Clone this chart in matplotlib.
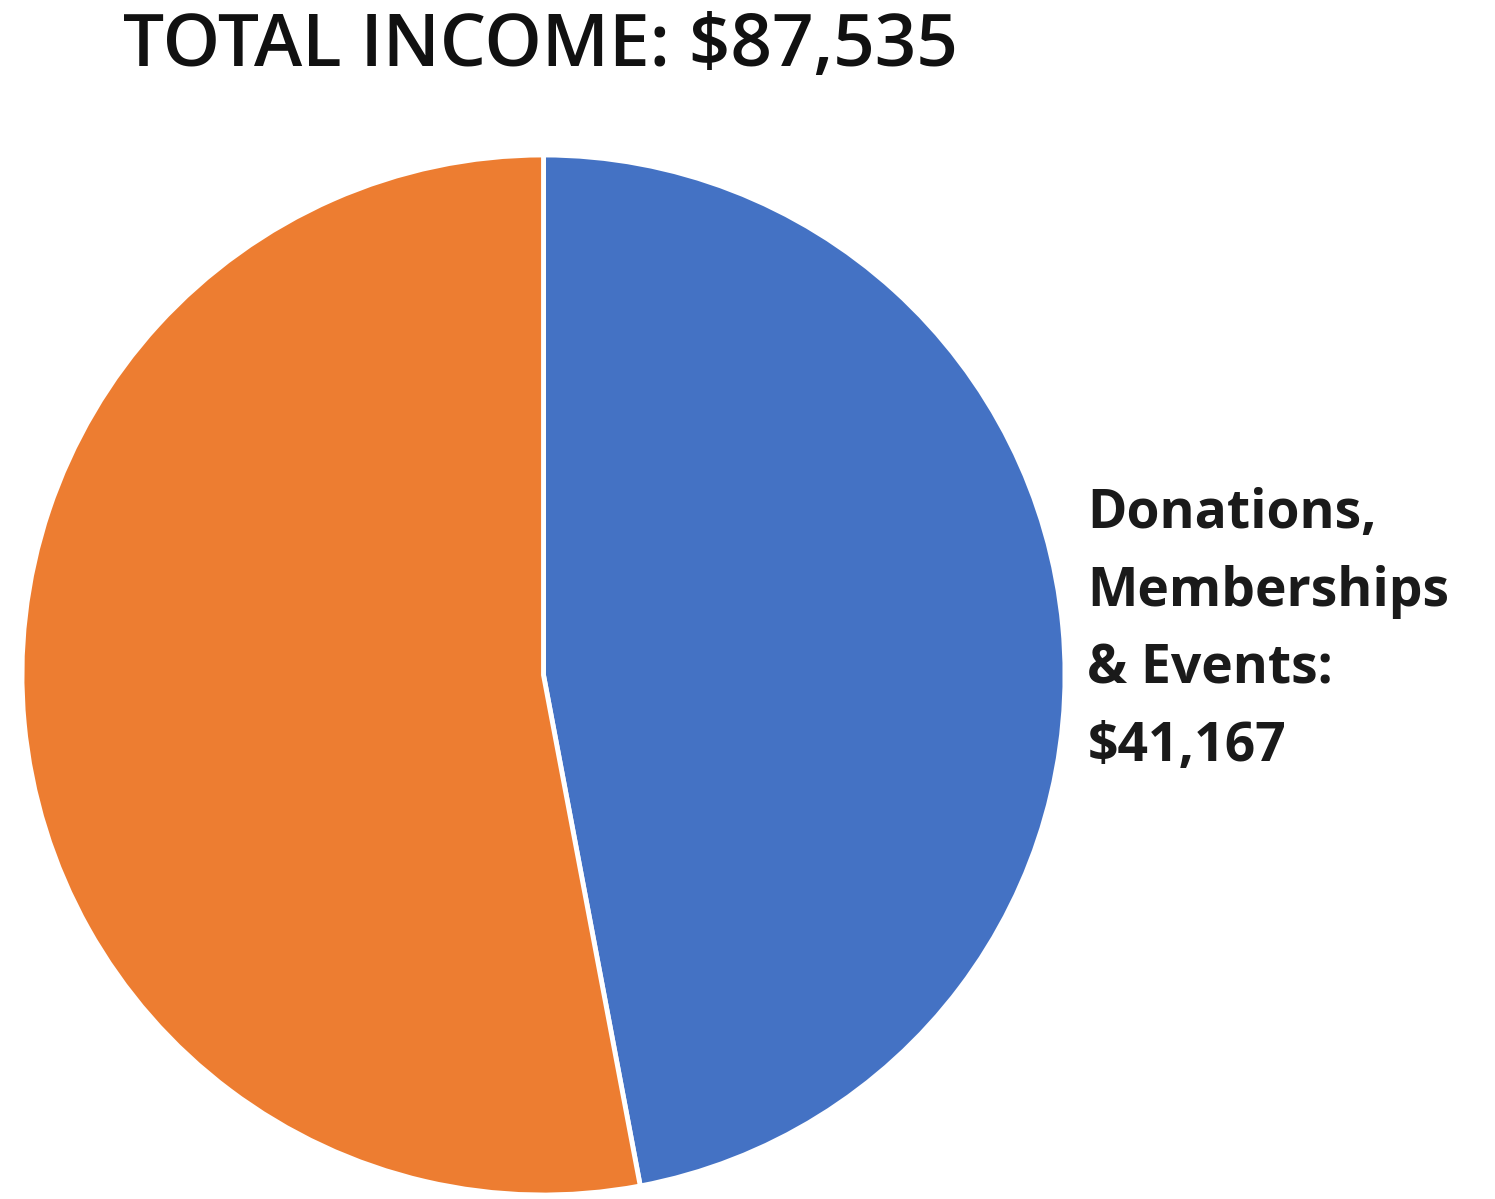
import matplotlib.pyplot as plt

# data
kategorier = ["Donations,\nMemberships\n& Events:\n$41,167", ""]
verdier = [41167, 87535 - 41167]
farger = ["#4472C4", "#ED7D31"]
tittel = "TOTAL INCOME: $87,535"

fig = plt.figure(figsize=(14.95, 11.99), dpi=100)
ax = fig.add_axes([22 / 1495, 4 / 1199, 1043 / 1495, 1040 / 1199])

ax.pie(verdier, colors=farger, startangle=90, counterclock=False,
       wedgeprops=dict(edgecolor="white", linewidth=3.5))
ax.set_xlim(-1, 1)
ax.set_ylim(-1, 1)
ax.set_aspect("auto")

# etikett for blå sektor
ax.text(1.043, 0.085, kategorier[0], ha="left", va="center", fontsize=38.5,
        family="Open Sans", fontweight="bold", linespacing=1.58,
        color="#1a1a1a")

fig.text(123 / 1495, 1 - 47 / 1199, tittel, ha="left", va="center",
         fontsize=52.5, family="Open Sans", fontweight="semibold", color="#111111")

fig.savefig("out.png", dpi=100)
